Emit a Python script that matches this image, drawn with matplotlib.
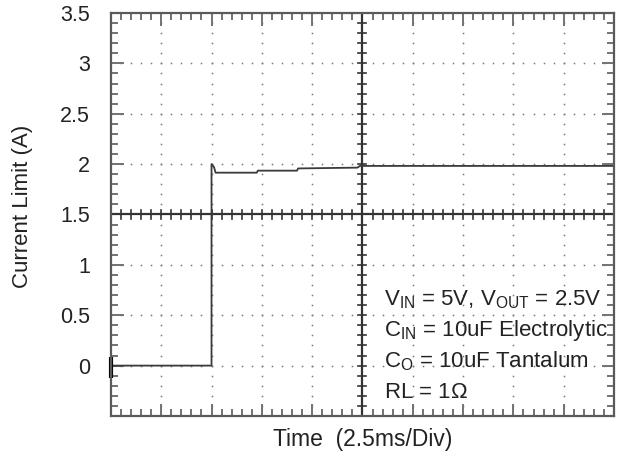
import numpy as np
import matplotlib
matplotlib.use("Agg")
import matplotlib.pyplot as plt

plt.rcParams['font.family'] = ['Liberation Sans', 'DejaVu Sans']
plt.rcParams['mathtext.fontset'] = 'custom'
plt.rcParams['mathtext.rm'] = 'Liberation Sans'

# trace (x in divisions, y in amps)
time_div = [0.0, 2.0, 2.0, 2.05, 2.08, 2.9, 2.92, 3.7, 3.72, 4.9, 4.95, 10.0]
current_a = [0.0, 0.0, 2.0, 1.97, 1.915, 1.915, 1.935, 1.935, 1.957, 1.965, 1.982, 1.982]

y_ticks = [0, 0.5, 1, 1.5, 2, 2.5, 3, 3.5]
y_labels = ['0', '0.5', '1', '1.5', '2', '2.5', '3', '3.5']
notes = [r'$\mathrm{V_{IN}}$ = 5V, $\mathrm{V_{OUT}}$ = 2.5V',
         r'$\mathrm{C_{IN}}$ = 10uF Electrolytic',
         r'$\mathrm{C_{O}}$ = 10uF Tantalum',
         r'RL = 1$\Omega$']

fs = 15.5

fig = plt.figure(figsize=(6.23, 4.62), dpi=100)
ax = fig.add_axes([0.178, 0.0996, 0.8076, 0.8723])
ax.set_xlim(0, 10)
ax.set_ylim(-0.5, 3.5)

frame = '#5a5a5a'
for s in ax.spines.values():
    s.set_color(frame)
    s.set_linewidth(1.6)

# dotted graticule
dot = '#777777'
for gx in range(1, 10):
    if gx == 5:
        continue
    yy = np.arange(-0.5, 3.51, 0.1)
    ax.plot(np.full_like(yy, gx), yy, ls='none', marker='s', ms=1.1, color=dot, mew=0)
for gy in [0, 0.5, 1, 2, 2.5, 3]:
    xx = np.arange(0, 10.01, 0.2)
    ax.plot(xx, np.full_like(xx, gy), ls='none', marker='s', ms=1.1, color=dot, mew=0)

# centre cross with small ticks
cross = '#333333'
ax.axvline(5, color=cross, lw=1.6)
ax.axhline(1.5, color=cross, lw=1.6)
for yy in np.arange(-0.5, 3.51, 0.1):
    ax.plot([4.92, 5.08], [yy, yy], color=cross, lw=1.2)
for xx in np.arange(0, 10.01, 0.2):
    ax.plot([xx, xx], [1.46, 1.54], color=cross, lw=1.2)

# ticks on the frame
ax.set_yticks(y_ticks)
ax.set_yticklabels(y_labels)
ax.set_yticks(np.arange(-0.5, 3.51, 0.1), minor=True)
ax.set_xticks(np.arange(0, 11, 1))
ax.set_xticklabels([])
ax.set_xticks(np.arange(0, 10.01, 0.2), minor=True)
ax.tick_params(which='both', direction='in', top=True, right=True, color=frame, width=1.2)
ax.tick_params(which='major', length=9)
ax.tick_params(which='minor', length=5)
ax.tick_params(axis='y', which='major', pad=15, labelsize=fs, labelcolor='#222222')

# trace
ax.plot(time_div, current_a, color='#3a3a3a', lw=1.3)
ax.plot([0, 0], [-0.12, 0.09], color='black', lw=3, clip_on=False, solid_capstyle='butt')

ax.set_xlabel('Time  (2.5ms/Div)', fontsize=16.5, labelpad=5, color='#222222')
ax.set_ylabel('Current Limit (A)', fontsize=16, color='#222222')
ax.yaxis.set_label_coords(-0.155, 0.52)

for i, t in enumerate(notes):
    ax.text(5.42, 0.65 - i * 0.305, t, fontsize=16, color='#222222', va='center', ha='left')

fig.savefig('out.png', dpi=100)
